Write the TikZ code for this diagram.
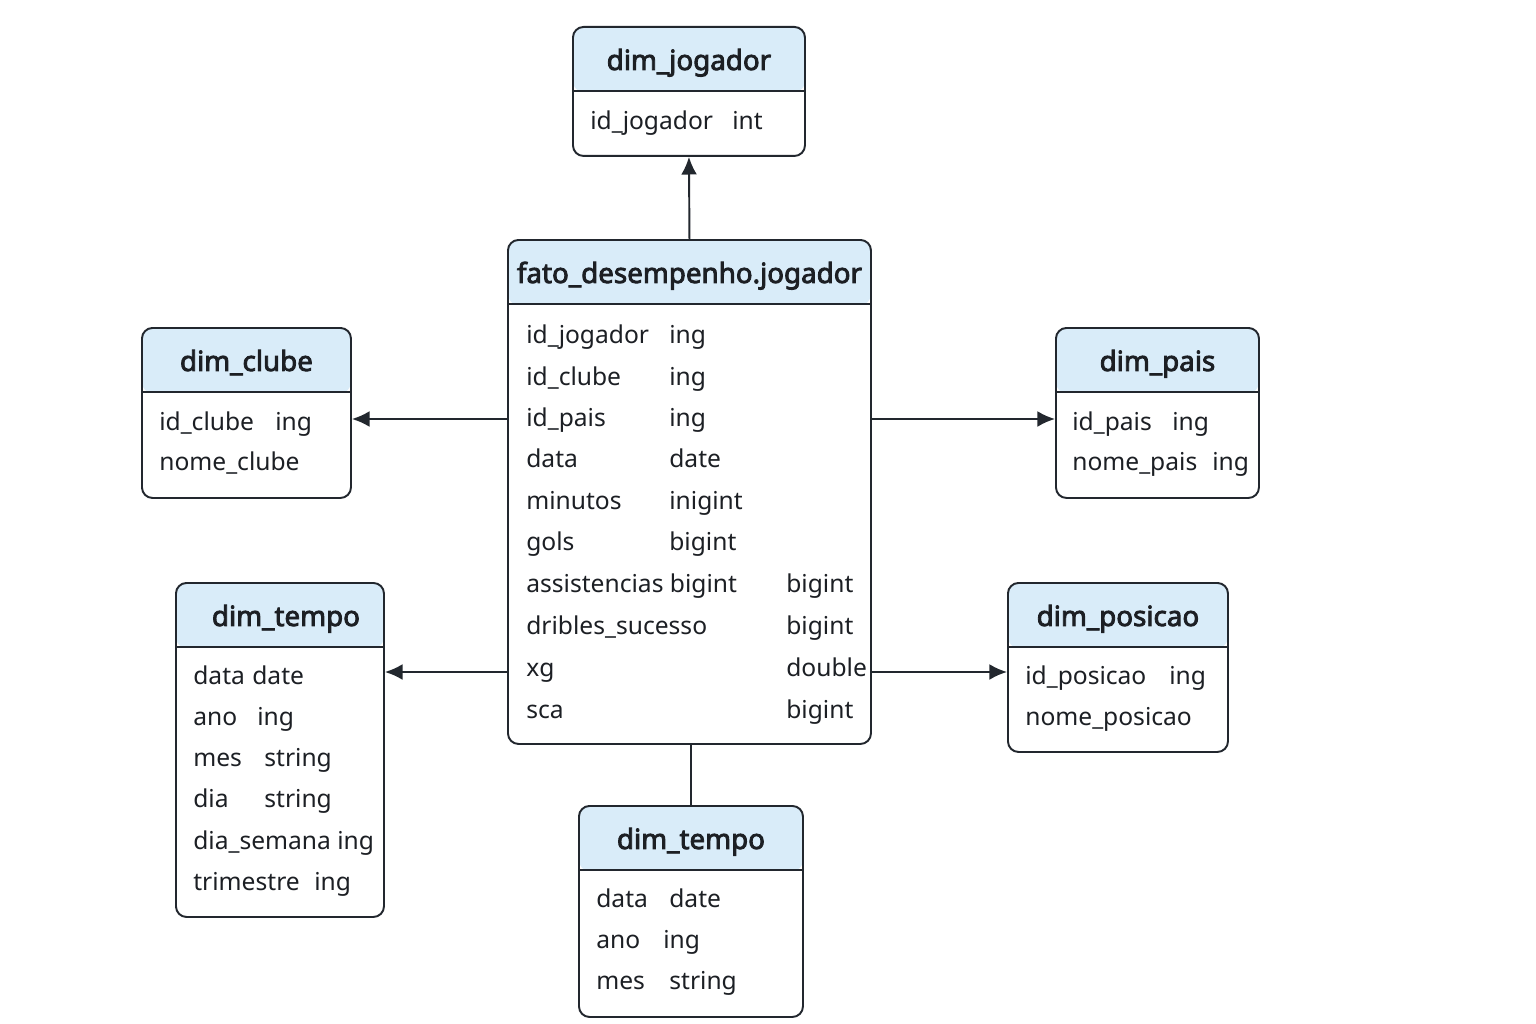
\documentclass[tikz,border=0pt]{standalone}
\usepackage{fontspec}
\setmainfont{Noto Sans}[AutoFakeBold=3]
\usetikzlibrary{arrows.meta}

\definecolor{linha}{HTML}{22272E}
\definecolor{cabec}{HTML}{D9ECF9}
\definecolor{texto}{HTML}{1C1F24}

\tikzset{
	tabela/.style={draw=linha, line width=1.1pt, rounded corners=6pt, anchor=north west, inner sep=0pt, fill=white,
		path picture={\fill[cabec] (path picture bounding box.north west) rectangle ([yshift=-1.3cm]path picture bounding box.north east);}},
	titulo/.style={font=\fontsize{15.8}{19}\selectfont\bfseries, text=texto, anchor=base, inner sep=0pt},
	campo/.style={font=\fontsize{14}{17}\selectfont, text=texto, anchor=base west, inner sep=0pt},
	seta/.style={draw=linha, line width=1.1pt, -{Latex[length=10pt,width=9pt]}},
	liga/.style={draw=linha, line width=1.1pt}
}

% [desvio do titulo] nome, x, y, largura, altura, titulo
\newcommand{\tabela}[7][0]{
	\node[tabela, minimum width=#5*0.02cm, minimum height=#6*0.02cm] (#2) at (#3,#4) {};
	\draw[liga] ([yshift=-1.3cm]#2.north west) -- ([yshift=-1.3cm]#2.north east);
	\node[titulo] (#2-t) at ([xshift=#1*0.02cm,yshift=-0.88cm]#2.north) {#7};
}

\begin{document}
\begin{tikzpicture}[x=0.02cm,y=-0.02cm]
	\useasboundingbox (0,0) rectangle (1536,1024);
	\fill[white] (0,0) rectangle (1536,1024);

	\tabela{jogador}{572}{26}{232}{129}{dim\_jogador}
	\tabela{fato}{507}{239}{363}{504}{fato\_desempenho.jogador}
	\tabela{clube}{141}{327}{209}{170}{dim\_clube}
	\tabela{pais}{1055}{327}{203}{170}{dim\_pais}
	\tabela[6]{tempo}{175}{582}{208}{334}{dim\_tempo}
	\tabela{posicao}{1007}{582}{220}{169}{dim\_posicao}
	\tabela{tempob}{578}{805}{224}{211}{dim\_tempo}

	% campos
	\node[campo] (j1) at (590,130) {id\_jogador};
	\node[campo] (j2) at (732,130) {int};

	\foreach \y/\c/\t [count=\i] in {343/id\_jogador/ing, 385/id\_clube/ing, 426/id\_pais/ing, 467/data/date,
		509/minutos/inigint, 550/gols/bigint}{
		\node[campo] (f\i) at (526,\y) {\c};
		\node[campo] (ft\i) at (669,\y) {\t};
	}
	\foreach \y/\c/\t [count=\i] in {592/assistencias bigint/bigint, 634/dribles\_sucesso/bigint,
		676/xg/double, 718/sca/bigint}{
		\node[campo] (g\i) at (526,\y) {\c};
		\node[campo] (gt\i) at (786,\y) {\t};
	}

	\node[campo] (c1) at (159,430) {id\_clube};
	\node[campo] (c2) at (275,430) {ing};
	\node[campo] (c3) at (159,470) {nome\_clube};

	\node[campo] (p1) at (1072,430) {id\_pais};
	\node[campo] (p2) at (1172,430) {ing};
	\node[campo] (p3) at (1072,470) {nome\_pais};
	\node[campo] (p4) at (1212,470) {ing};

	\foreach \y/\c/\x/\t [count=\i] in {684/data/252/date, 725/ano/257/ing, 766/mes/264/string,
		807/dia/264/string, 890/trimestre/314/ing}{
		\node[campo] (t\i) at (193,\y) {\c};
		\node[campo] (tt\i) at (\x,\y) {\t};
	}
	\node[campo] (t6) at (193,849) {dia\_semana ing};

	\node[campo] (o1) at (1025,684) {id\_posicao};
	\node[campo] (o2) at (1169,684) {ing};
	\node[campo] (o3) at (1025,725) {nome\_posicao};

	\foreach \y/\c/\x/\t [count=\i] in {907/data/669/date, 948/ano/663/ing, 989/mes/669/string}{
		\node[campo] (b\i) at (596,\y) {\c};
		\node[campo] (bt\i) at (\x,\y) {\t};
	}

	% ligacoes
	\draw[seta] (fato.north) -- (jogador.south);
	\draw[seta] (fato.west |- 0,419) -- (clube.east |- 0,419);
	\draw[seta] (fato.east |- 0,419) -- (pais.west |- 0,419);
	\draw[seta] (fato.west |- 0,672) -- (tempo.east |- 0,672);
	\draw[seta] (fato.east |- 0,672) -- (posicao.west |- 0,672);
	\draw[liga] (tempob.north) -- (tempob.north |- fato.south);
\end{tikzpicture}
\end{document}
